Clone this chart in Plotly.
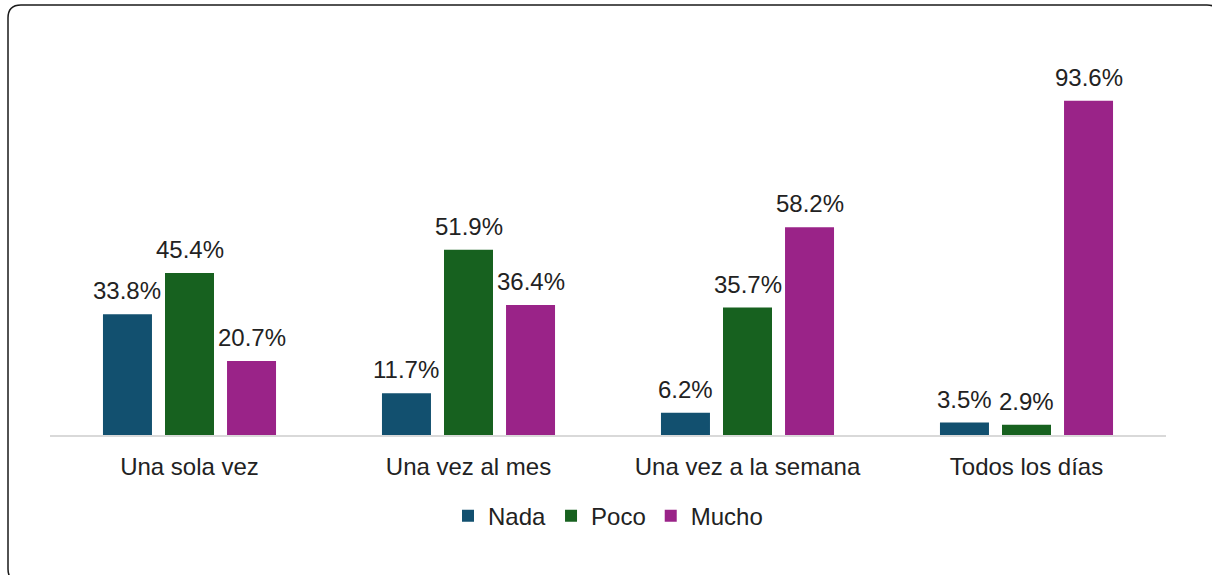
import plotly.graph_objects as go

categories = ["Una sola vez", "Una vez al mes", "Una vez a la semana", "Todos los días"]
series_names = ["Nada", "Poco", "Mucho"]
nada = [33.8, 11.7, 6.2, 3.5]
poco = [45.4, 51.9, 35.7, 2.9]
mucho = [20.7, 36.4, 58.2, 93.6]
colors = ["#12506F", "#17611F", "#9A2388"]

W, H = 1212, 575
L, R, T, B = 50, 46, 78, 140
FONT = "Liberation Sans, Arial, sans-serif"
TXT = "#222222"
FS = 24

fig = go.Figure()
series = [nada, poco, mucho]
for name, vals, col in zip(series_names, series, colors):
    fig.add_trace(go.Bar(
        x=categories, y=vals, name=name,
        marker=dict(color=col, line=dict(width=0)),
    ))

# value labels above bars
slot = (W - L - R) / len(categories) * (1 - 0.333) / 3
for i, vals in enumerate(series):
    for c, v in zip(categories, vals):
        fig.add_annotation(
            x=c, y=v, text=f"{v:.1f}%", showarrow=False,
            xanchor="center", yanchor="bottom",
            xshift=(i - 1) * slot, yshift=8,
            font=dict(family=FONT, size=FS, color=TXT),
        )

# rounded border (pixel-sized, anchored at plot bottom-left); partly cut off at right/bottom
x0, x1 = 8 - L, 1220 - L
y1, y0 = (H - B) - 5, (H - B) - 582
r = 13
path = (f"M {x0+r},{y1} L {x1-r},{y1} Q {x1},{y1} {x1},{y1-r} "
        f"L {x1},{y0+r} Q {x1},{y0} {x1-r},{y0} L {x0+r},{y0} "
        f"Q {x0},{y0} {x0},{y0+r} L {x0},{y1-r} Q {x0},{y1} {x0+r},{y1} Z")
fig.add_shape(type="path", path=path, xref="paper", yref="paper",
              xsizemode="pixel", ysizemode="pixel", xanchor=0, yanchor=0,
              line=dict(color="#1a1a1a", width=1.5), fillcolor="rgba(0,0,0,0)",
              layer="below")

fig.update_layout(
    width=W, height=H,
    margin=dict(l=L, r=R, t=T, b=B, autoexpand=False),
    paper_bgcolor="white", plot_bgcolor="white",
    barmode="group", bargap=0.333, bargroupgap=0.21,
    font=dict(family=FONT, size=FS, color=TXT),
    showlegend=True,
    legend=dict(orientation="h", x=0.5, xanchor="center", y=-0.227, yanchor="middle",
                font=dict(family=FONT, size=FS, color=TXT), itemwidth=30,
                traceorder="normal"),
    xaxis=dict(showline=True, linecolor="#D9D9D9", linewidth=2, ticks="",
               ticklabelstandoff=9,
               showgrid=False, tickfont=dict(family=FONT, size=FS, color=TXT)),
    yaxis=dict(range=[0, 100], visible=False, showgrid=False, zeroline=False),
)

fig.write_html("out.html")
